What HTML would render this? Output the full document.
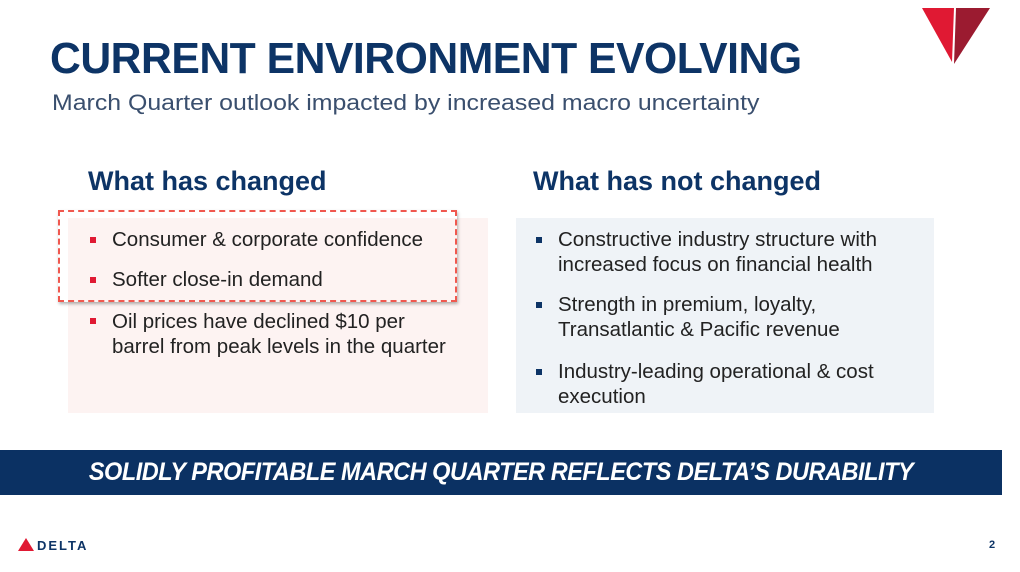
<!DOCTYPE html>
<html><head><meta charset="utf-8"><style>
body{margin:0;width:1020px;height:572px;background:#fff;position:relative;overflow:hidden;font-family:"Liberation Sans",sans-serif}
.a{position:absolute;white-space:nowrap}
.t{left:50px;top:34px;font-size:44px;font-weight:bold;color:#0d3466;transform:scaleX(0.97);transform-origin:left top;letter-spacing:-0.5px}
.s{left:52px;top:90px;font-size:22px;color:#3a4f6e;transform:scaleX(1.13);transform-origin:left top}
.h{font-size:27px;font-weight:bold;color:#0d3466;transform:scaleX(1.0);transform-origin:left top}
.b{font-size:20.5px;color:#222;line-height:25px}
.sq{position:absolute;width:6px;height:6px}
</style></head><body>
<svg class="a" style="left:918px;top:6px" width="74" height="60"><polygon points="4,2 36,2 34,56" fill="#e01933"/><polygon points="38,2 72,2 36,58" fill="#9b1b30"/></svg>
<div class="a t">CURRENT ENVIRONMENT EVOLVING</div>
<div class="a s">March Quarter outlook impacted by increased macro uncertainty</div>
<div class="a h" style="left:88px;top:166px">What has changed</div>
<div class="a h" style="left:533px;top:166px">What has not changed</div>
<div class="a" style="left:68px;top:218px;width:420px;height:195px;background:#fdf3f2"></div>
<div class="a" style="left:516px;top:218px;width:418px;height:195px;background:#eff3f7"></div>
<div class="a" style="left:58px;top:210px;width:395px;height:88px;border:2px dashed #f0584f;box-shadow:1px 2px 3px rgba(0,0,0,0.3)"></div>
<div class="sq" style="left:90px;top:237px;background:#e01933"></div>
<div class="sq" style="left:90px;top:277px;background:#e01933"></div>
<div class="sq" style="left:90px;top:318px;background:#e01933"></div>
<div class="a b" style="left:112px;top:227px">Consumer &amp; corporate confidence</div>
<div class="a b" style="left:112px;top:267px">Softer close-in demand</div>
<div class="a b" style="left:112px;top:309px">Oil prices have declined $10 per<br>barrel from peak levels in the quarter</div>
<div class="sq" style="left:536px;top:237px;background:#0d3466"></div>
<div class="sq" style="left:536px;top:302px;background:#0d3466"></div>
<div class="sq" style="left:536px;top:369px;background:#0d3466"></div>
<div class="a b" style="left:558px;top:227px">Constructive industry structure with<br>increased focus on financial health</div>
<div class="a b" style="left:558px;top:292px">Strength in premium, loyalty,<br>Transatlantic &amp; Pacific revenue</div>
<div class="a b" style="left:558px;top:359px">Industry-leading operational &amp; cost<br>execution</div>
<div class="a" style="left:0;top:450px;width:1002px;height:45px;background:#0b3163"></div>
<div class="a" style="left:0;top:458px;width:1002px;text-align:center;font-size:25px;font-weight:bold;font-style:italic;color:#fff;transform:scaleX(0.94);transform-origin:501px 0;letter-spacing:-0.5px">SOLIDLY PROFITABLE MARCH QUARTER REFLECTS DELTA’S DURABILITY</div>
<svg class="a" style="left:18px;top:538px" width="16" height="14"><polygon points="8,0 16,13 0,13" fill="#e01933"/></svg>
<div class="a" style="left:37px;top:538px;font-size:13px;font-weight:bold;color:#0d3466;letter-spacing:2px">DELTA</div>
<div class="a" style="left:989px;top:539px;font-size:11px;font-weight:bold;color:#0d3466">2</div>
</body></html>
